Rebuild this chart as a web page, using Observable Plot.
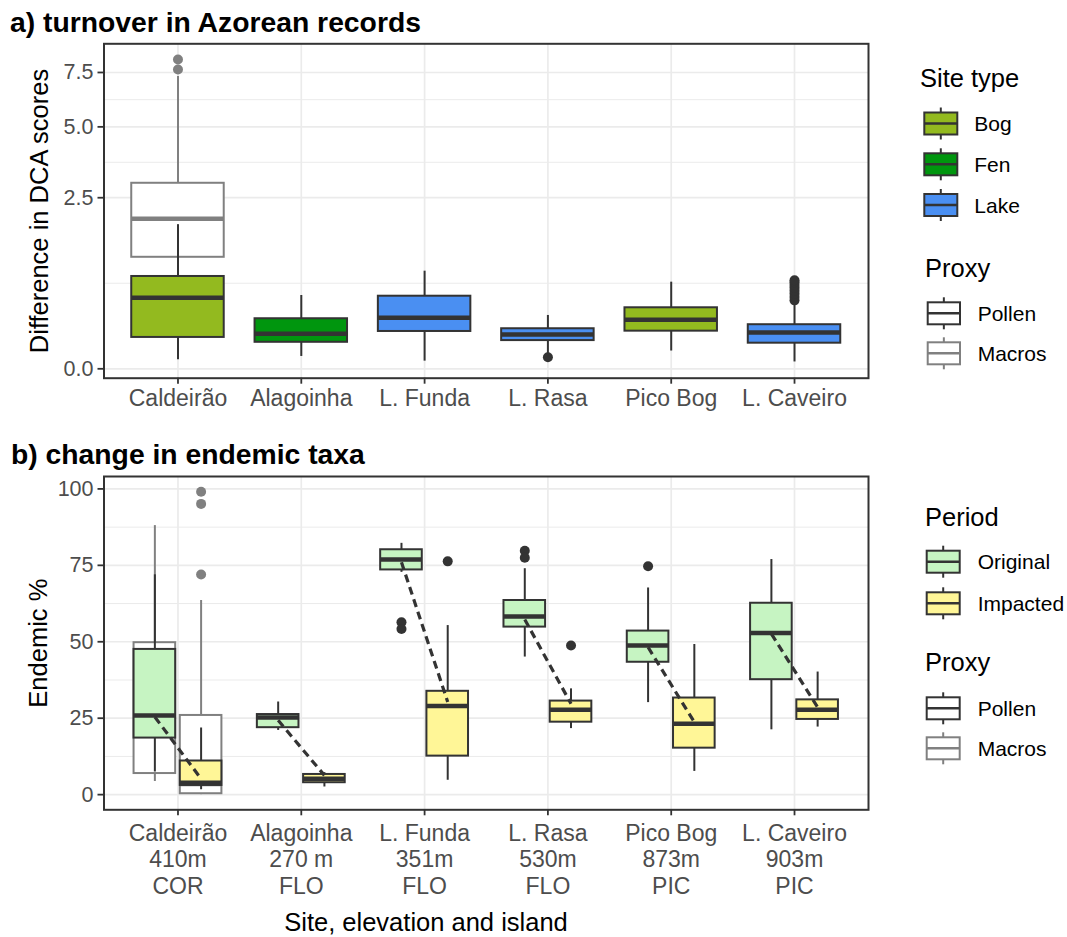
<!DOCTYPE html>
<html><head><meta charset="utf-8">
<script src="https://cdn.jsdelivr.net/npm/d3@7"></script>
<script src="https://cdn.jsdelivr.net/npm/@observablehq/plot@0.6"></script>
<style>
body{margin:0;background:#fff;}
#root{position:relative;width:1067px;height:937px;font-family:"Liberation Sans",Arial,Helvetica,sans-serif;overflow:hidden;}
.abs{position:absolute;left:0;}
</style></head><body><div id="root">
<div id="plotA" class="abs" style="top:0"></div>
<div id="plotB" class="abs" style="top:420px"></div>
<svg id="overlay" class="abs" style="top:0" width="1067" height="937"></svg>
</div>
<script>
// ---------------- DATA ----------------
const sites = ["Caldeirão", "Alagoinha", "L. Funda", "L. Rasa", "Pico Bog", "L. Caveiro"];
const siteTypeOf = ["Bog", "Fen", "Lake", "Lake", "Bog", "Lake"];
const siteTypes = ["Bog", "Fen", "Lake"];
const siteTypeColors = ["#93BA1F", "#00960E", "#4A8FF2"];
const proxies = ["Pollen", "Macros"];
const proxyColors = ["#333333", "#808080"];

// panel a: turnover (difference in DCA scores), pollen boxes
const aLow  = [0.007, 0.013, 0.005, 0.019, 0.027, 0.004];
const aQ1   = [0.084, 0.060, 0.119, 0.068, 0.121, 0.056];
const aMed  = [0.432, 0.105, 0.222, 0.100, 0.205, 0.112];
const aQ3   = [0.728, 0.214, 0.450, 0.137, 0.318, 0.166];
const aHigh = [1.775, 0.459, 0.814, 0.243, 0.641, 0.361];
const aOutPollen = [[], [], [], [0.0115], [], [0.40, 0.44, 0.48, 0.52, 0.56, 0.60, 0.64, 0.67]];
// panel a: macros (Caldeirão only)
const aMacroSites = ["Caldeirão"];
const aMacroLow  = [0.5];
const aMacroQ1   = [1.062];
const aMacroMed  = [1.925];
const aMacroQ3   = [2.94];
const aMacroHigh = [7.30];
const aOutMacros = [[7.65, 8.17]];
const yTicksA = [0, 2.5, 5, 7.5];

// panel b: endemic %
const siteLabelsB = ["Caldeirão\n410m\nCOR", "Alagoinha\n270 m\nFLO", "L. Funda\n351m\nFLO",
                     "L. Rasa\n530m\nFLO", "Pico Bog\n873m\nPIC", "L. Caveiro\n903m\nPIC"];
const periods = ["Original", "Impacted"];
const periodColors = ["#C6F4C2", "#FFF697"];
// pollen, Original
const bOrigLow  = [7.4, 21.0, 72.7, 45.0, 30.1, 21.2];
const bOrigQ1   = [18.5, 21.9, 73.5, 54.8, 43.3, 37.6];
const bOrigMed  = [25.9, 25.2, 76.9, 58.3, 48.8, 52.9];
const bOrigQ3   = [47.5, 26.2, 80.1, 63.5, 53.5, 62.6];
const bOrigHigh = [71.9, 30.3, 82.2, 73.9, 67.6, 76.9];
const bOrigOut  = [[], [], [56.4, 54.2], [79.8, 77.5], [74.7], []];
// pollen, Impacted
const bImpLow  = [1.6, 2.5, 4.7, 21.6, 7.6, 22.1];
const bImpQ1   = [3.0, 3.9, 12.6, 23.7, 15.2, 24.6];
const bImpMed  = [3.9, 5.2, 29.0, 27.8, 23.2, 27.8];
const bImpQ3   = [11.0, 6.6, 33.8, 30.6, 31.6, 31.0];
const bImpHigh = [21.8, 7.2, 55.3, 34.6, 49.1, 40.1];
const bImpOut  = [[], [], [76.3], [48.8], [], []];
// macros (Caldeirão only), Original / Impacted
const bMacroSites = ["Caldeirão"];
const bMacroOrig = {low: [4.3], q1: [6.9], med: [25.0], q3: [49.7], high: [88.0], out: [[]]};
const bMacroImp  = {low: [0.0], q1: [0.3], med: [3.5], q3: [25.9], high: [63.5], out: [[99.1, 95.1, 72.0]]};
// dashed trend between periods
const trendOriginal = [25.4, 24.3, 76.0, 57.3, 48.2, 52.6];
const trendImpacted = [5.2, 6.3, 30.3, 29.7, 23.7, 28.6];
const yTicksB = [0, 25, 50, 75, 100];

// ---------------- HELPERS ----------------
const FONT = '"Liberation Sans", Arial, Helvetica, sans-serif';
const GRID = "#EBEBEB";
const DARK = "#333333";
const GREY = "#808080";
const HALF = 0.375;      // ggplot box width 0.75
const DODGE = 0.1875;    // dodge offset
const HALF_D = 0.16875;  // dodged box half width
const xIdx = sites.map((d, i) => i);
const xDomain = [-0.6, sites.length - 0.4];

function boxMarks(rows, {fill, stroke, half}) {
  return [
    Plot.ruleX(rows, {x: "x", y1: "q3", y2: "high", stroke, strokeWidth: 2}),
    Plot.ruleX(rows, {x: "x", y1: "low", y2: "q1", stroke, strokeWidth: 2}),
    Plot.rect(rows, {x1: d => d.x - half, x2: d => d.x + half, y1: "q1", y2: "q3", fill, stroke, strokeWidth: 2}),
    Plot.ruleY(rows, {y: "med", x1: d => d.x - half, x2: d => d.x + half, stroke, strokeWidth: 4.5})
  ];
}
function outRows(xs, lists) {
  return lists.flatMap((vals, j) => vals.map(v => ({x: xs[j], v})));
}
function minorOf(ticks, f, finv) {
  const m = [];
  for (let i = 0; i < ticks.length - 1; i++) m.push(finv((f(ticks[i]) + f(ticks[i + 1])) / 2));
  return m;
}

// ---------------- PANEL A ----------------
const rowsA = sites.map((s, i) => ({x: i, type: siteTypeOf[i], low: aLow[i], q1: aQ1[i], med: aMed[i], q3: aQ3[i], high: aHigh[i]}));
const macroXA = aMacroSites.map(s => sites.indexOf(s));
const rowsAM = aMacroSites.map((s, j) => ({x: macroXA[j], low: aMacroLow[j], q1: aMacroQ1[j], med: aMacroMed[j], q3: aMacroQ3[j], high: aMacroHigh[j]}));
const yMinorA = minorOf(yTicksA, Math.sqrt, v => v * v);

const plotA = Plot.plot({
  width: 880, height: 420,
  marginLeft: 103.5, marginRight: 12, marginTop: 43.3, marginBottom: 42.3,
  style: {fontFamily: FONT, background: "transparent", overflow: "visible"},
  x: {domain: xDomain, axis: null},
  y: {type: "sqrt", domain: [0, 9], range: [368.3, 43.7], axis: null},
  color: {domain: siteTypes, range: siteTypeColors},
  marks: [
    Plot.gridY(yMinorA, {stroke: GRID, strokeOpacity: 1, strokeWidth: 1}),
    Plot.gridY(yTicksA, {stroke: GRID, strokeOpacity: 1, strokeWidth: 1.7}),
    Plot.gridX(xIdx, {stroke: GRID, strokeOpacity: 1, strokeWidth: 1.7}),
    ...boxMarks(rowsAM, {fill: "white", stroke: GREY, half: HALF}),
    Plot.dot(outRows(macroXA, aOutMacros), {x: "x", y: "v", r: 5, fill: GREY, stroke: null}),
    ...boxMarks(rowsA, {fill: "type", stroke: DARK, half: HALF}),
    Plot.dot(outRows(xIdx, aOutPollen), {x: "x", y: "v", r: 5, fill: DARK, stroke: null}),
    Plot.frame({stroke: DARK, strokeWidth: 2}),
    Plot.axisX({ticks: xIdx, tickFormat: i => sites[i], tickSize: 6, tickPadding: 5, fontSize: 23,
      fill: "#4D4D4D", stroke: DARK, strokeWidth: 1.8, label: null}),
    Plot.axisY({ticks: yTicksA, tickFormat: d3.format(".1f"), tickSize: 6, tickPadding: 4.5, fontSize: 21.5,
      fill: "#4D4D4D", stroke: DARK, strokeWidth: 1.8, label: null}),
    Plot.text(["Difference in DCA scores"], {frameAnchor: "left", textAnchor: "middle", lineAnchor: "middle",
      dx: -64, rotate: -90, fontSize: 25.5, fill: "black"})
  ]
});
document.getElementById("plotA").appendChild(plotA);

// ---------------- PANEL B ----------------
const rowsB = sites.flatMap((s, i) => [
  {x: i - DODGE, period: "Original", low: bOrigLow[i], q1: bOrigQ1[i], med: bOrigMed[i], q3: bOrigQ3[i], high: bOrigHigh[i]},
  {x: i + DODGE, period: "Impacted", low: bImpLow[i], q1: bImpQ1[i], med: bImpMed[i], q3: bImpQ3[i], high: bImpHigh[i]}
]);
const macroXB = bMacroSites.map(s => sites.indexOf(s));
const rowsBM = bMacroSites.flatMap((s, j) => [
  {x: macroXB[j] - DODGE, low: bMacroOrig.low[j], q1: bMacroOrig.q1[j], med: bMacroOrig.med[j], q3: bMacroOrig.q3[j], high: bMacroOrig.high[j]},
  {x: macroXB[j] + DODGE, low: bMacroImp.low[j], q1: bMacroImp.q1[j], med: bMacroImp.med[j], q3: bMacroImp.q3[j], high: bMacroImp.high[j]}
]);
const outBM = [...outRows(macroXB.map(x => x - DODGE), bMacroOrig.out), ...outRows(macroXB.map(x => x + DODGE), bMacroImp.out)];
const outBP = [...outRows(xIdx.map(x => x - DODGE), bOrigOut), ...outRows(xIdx.map(x => x + DODGE), bImpOut)];
const trendRows = sites.map((s, i) => ({i, o: trendOriginal[i], m: trendImpacted[i]}));
const yMinorB = minorOf(yTicksB, v => v, v => v);

const plotB = Plot.plot({
  width: 880, height: 517,
  marginLeft: 103.5, marginRight: 12, marginTop: 56, marginBottom: 127.7,
  style: {fontFamily: FONT, background: "transparent", overflow: "visible"},
  x: {domain: xDomain, axis: null},
  y: {domain: [-4.96, 104.06], axis: null},
  color: {domain: periods, range: periodColors},
  marks: [
    Plot.gridY(yMinorB, {stroke: GRID, strokeOpacity: 1, strokeWidth: 1}),
    Plot.gridY(yTicksB, {stroke: GRID, strokeOpacity: 1, strokeWidth: 1.7}),
    Plot.gridX(xIdx, {stroke: GRID, strokeOpacity: 1, strokeWidth: 1.7}),
    ...boxMarks(rowsBM, {fill: "white", stroke: GREY, half: HALF_D}),
    Plot.dot(outBM, {x: "x", y: "v", r: 5, fill: GREY, stroke: null}),
    ...boxMarks(rowsB, {fill: "period", stroke: DARK, half: HALF_D}),
    Plot.dot(outBP, {x: "x", y: "v", r: 5, fill: DARK, stroke: null}),
    Plot.link(trendRows, {x1: d => d.i - DODGE, y1: "o", x2: d => d.i + DODGE, y2: "m",
      stroke: DARK, strokeWidth: 3.2, strokeDasharray: "8,5"}),
    Plot.frame({stroke: DARK, strokeWidth: 2}),
    Plot.axisX({ticks: xIdx, tickFormat: i => siteLabelsB[i], tickSize: 6, tickPadding: 6, fontSize: 23,
      lineHeight: 1.16, fill: "#4D4D4D", stroke: DARK, strokeWidth: 1.8, label: null}),
    Plot.axisY({ticks: yTicksB, tickFormat: d3.format("d"), tickSize: 6, tickPadding: 4.5, fontSize: 21.5,
      fill: "#4D4D4D", stroke: DARK, strokeWidth: 1.8, label: null}),
    Plot.text(["Endemic %"], {frameAnchor: "left", textAnchor: "middle", lineAnchor: "middle",
      dx: -65, rotate: -90, fontSize: 25.5, fill: "black"})
  ]
});
document.getElementById("plotB").appendChild(plotB);

// ---------------- TITLES & LEGENDS ----------------
const svg = d3.select("#overlay").style("font-family", FONT);
function txt(x, y, s, size, weight, anchor) {
  svg.append("text").attr("x", x).attr("y", y).attr("dominant-baseline", "central")
    .attr("text-anchor", anchor || "start").attr("font-size", size).attr("font-weight", weight || "normal")
    .attr("fill", "black").text(s);
}
txt(10, 22, "a) turnover in Azorean records", 28.3, "bold");
txt(11, 454, "b) change in endemic taxa", 28.3, "bold");
txt(426, 921.5, "Site, elevation and island", 25.5, "normal", "middle");

function legend(title, tx, ty, labels, fills, strokes, keyX, keyW, labelX, centers) {
  txt(tx, ty, title, 25.5);
  labels.forEach((lab, i) => {
    const cy = centers[i], cx = keyX + keyW / 2;
    const g = svg.append("g");
    g.append("line").attr("x1", cx).attr("x2", cx).attr("y1", cy - 16).attr("y2", cy + 16)
      .attr("stroke", strokes[i]).attr("stroke-width", 2);
    g.append("rect").attr("x", keyX).attr("y", cy - 11).attr("width", keyW).attr("height", 22)
      .attr("fill", fills[i]).attr("stroke", strokes[i]).attr("stroke-width", 2);
    g.append("line").attr("x1", keyX).attr("x2", keyX + keyW).attr("y1", cy).attr("y2", cy)
      .attr("stroke", strokes[i]).attr("stroke-width", 2.6);
    txt(labelX, cy, lab, 21);
  });
}
legend("Site type", 920, 78, siteTypes, siteTypeColors, siteTypes.map(() => DARK), 924.3, 33, 974.3, [123.5, 164.3, 205]);
legend("Proxy", 925, 268.3, proxies, ["white", "white"], proxyColors, 927.7, 32.3, 977.7, [313.3, 353.3]);
legend("Period", 925, 516.7, periods, periodColors, periods.map(() => DARK), 926.7, 33, 977.7, [561.7, 603.3]);
legend("Proxy", 925, 661.7, proxies, ["white", "white"], proxyColors, 926.7, 33, 977.7, [708.3, 748.3]);
</script>
</body></html>
